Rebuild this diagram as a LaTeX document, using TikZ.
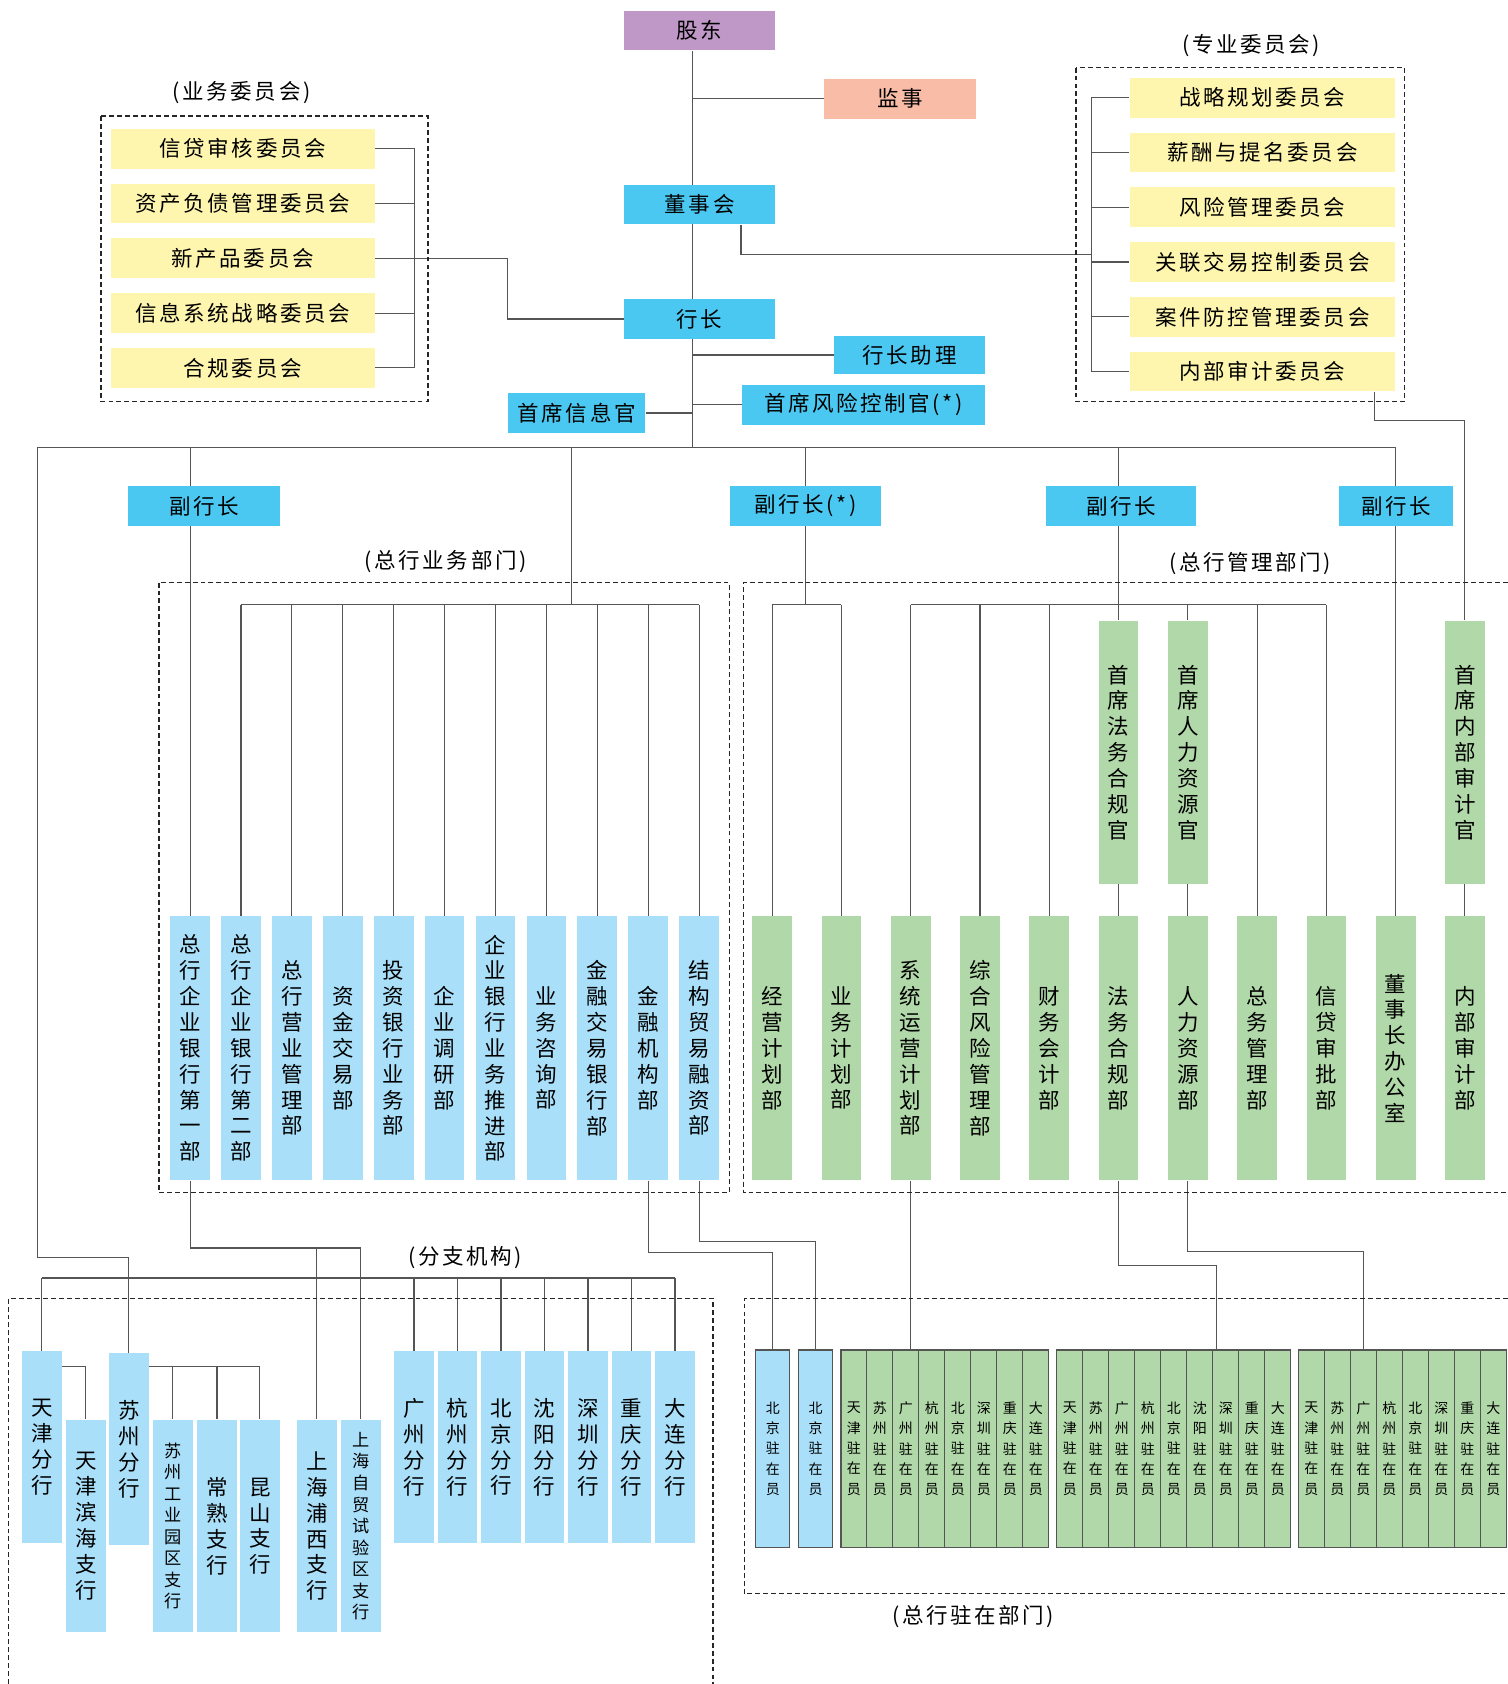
\documentclass[tikz,border=0pt]{standalone}
\usepackage{fontspec}
\setmainfont{Noto Sans CJK SC}
\newfontfamily\spaced[LetterSpace=12]{Noto Sans CJK SC}
\usepackage{xcolor}
\usetikzlibrary{positioning,calc}

\definecolor{hdblue}{HTML}{4BC8F1}
\definecolor{ltblue}{HTML}{A9DFF8}
\definecolor{grn}{HTML}{B1D8A8}
\definecolor{ylw}{HTML}{FEF5AE}
\definecolor{prp}{HTML}{BF98C7}
\definecolor{slm}{HTML}{F9BCA7}
\definecolor{lnk}{HTML}{555555}

\pgfdeclarelayer{bg}
\pgfsetlayers{bg,main}

% stack the characters of a word one under the other
\newcommand{\vst}[1]{\expandafter\vstaux#1\relax}
\def\vstaux#1#2\relax{#1\ifx\relax#2\relax\else\\\vstaux#2\relax\fi}

\tikzset{
  link/.style={draw=lnk, line width=0.6pt},
  dashframe/.style={draw=black!85, line width=0.7pt, dash pattern=on 2.6pt off 1.6pt},
  hbox/.style={inner sep=0pt, minimum height=0.74cm, font=\spaced\fontsize{11.4}{13.7}\selectfont},
  lead/.style={hbox, fill=hdblue},
  cmte/.style={hbox, fill=ylw},
  grouplabel/.style={font=\spaced\fontsize{11.4}{13.7}\selectfont},
  vcol/.style={inner sep=0pt, minimum width=0.74cm, align=center, font=\fontsize{11.4}{13.7}\selectfont},
  bizdept/.style={vcol, fill=ltblue, minimum height=4.92cm},
  mgtdept/.style={vcol, fill=grn, minimum height=4.92cm},
  chief/.style={vcol, fill=grn, minimum height=4.9cm},
  branch/.style={vcol, fill=ltblue, minimum height=3.58cm},
  subbranch/.style={vcol, fill=ltblue, minimum height=3.96cm},
  smallcol/.style={font=\fontsize{9.1}{11.4}\selectfont},
  resid/.style={inner sep=0pt, draw=lnk, line width=0.6pt, minimum height=3.68cm, align=center, font=\fontsize{7.4}{10.8}\selectfont},
}

\begin{document}
\begin{tikzpicture}[x=0.02cm, y=-0.02cm]
  \useasboundingbox (0,0) rectangle (1404,1568);

  % Define coordinates for nodes
  \node[hbox, fill=prp, minimum width=2.82cm] (gd) at (651.5,28.5) {股东};
  \node[hbox, fill=slm, minimum width=2.82cm] (js) at (838,92) {监事};
  \node[lead, minimum width=2.82cm] (dsh) at (651.5,190.5) {董事会};
  \node[lead, minimum width=2.82cm] (hz) at (651.5,297) {行长};
  \node[lead, minimum width=2.82cm, minimum height=0.72cm] (hzzl) at (847,330.5) {行长助理};
  \node[lead, minimum width=4.52cm] (fkg) at (804,377) {首席风险控制官(*)};
  \node[lead, minimum width=2.56cm] (xxg) at (537,384.5) {首席信息官};

  \node[lead, minimum width=2.82cm] (fz1) at (190,471) {副行长};
  \node[lead, minimum width=2.8cm] (fz2) at (750,471) {副行长(*)};
  \node[lead, minimum width=2.8cm] (fz3) at (1044,471) {副行长};
  \node[lead, minimum width=2.12cm] (fz4) at (1300,471) {副行长};

  \coordinate (spine) at (645,416.5);
  \coordinate (wl) at (35,416.5);
  \coordinate (scbus) at (1016,237);
  \coordinate (bcbus) at (386.3,240.5);
  \coordinate (bizbus) at (532.5,563);
  \coordinate (mbus) at (750,563);

  % committees
  \foreach \nm [count=\i] in {信贷审核委员会,资产负债管理委员会,新产品委员会,信息系统战略委员会,合规委员会}
    \node[cmte, minimum width=4.92cm] (bc\i) at (226,{138.5+(\i-1)*51}) {\nm};
  \foreach \nm [count=\i] in {战略规划委员会,薪酬与提名委员会,风险管理委员会,关联交易控制委员会,案件防控管理委员会,内部审计委员会}
    \node[cmte, minimum width=4.94cm] (sc\i) at (1175.5,{91+(\i-1)*51}) {\nm};

  \node[grouplabel] (lbiz) at (225,86) {(业务委员会)};
  \node[grouplabel] (lspec) at (1165,42) {(专业委员会)};
  \node[grouplabel] (lhqb) at (415,523) {(总行业务部门)};
  \node[grouplabel] (lhqm) at (1164,525) {(总行管理部门)};
  \node[grouplabel] (lbr) at (433,1171) {(分支机构)};
  \node[grouplabel] (lres) at (906,1505) {(总行驻在部门)};

  % head office departments
  \foreach \nm [count=\i] in {总行企业银行第一部,总行企业银行第二部,总行营业管理部,资金交易部,投资银行业务部,企业调研部,企业银行业务推进部,业务咨询部,金融交易银行部,金融机构部,结构贸易融资部}
    \node[bizdept] (d\i) at ({177+(\i-1)*47.4},976) {\vst{\nm}};
  \foreach \nm [count=\i] in {经营计划部,业务计划部,系统运营计划部,综合风险管理部,财务会计部,法务合规部,人力资源部,总务管理部,信贷审批部,董事长办公室,内部审计部}
    \node[mgtdept] (m\i) at ({719+(\i-1)*64.5},976) {\vst{\nm}};
  \node[chief] (c1) at (1041.5,700.5) {\vst{首席法务合规官}};
  \node[chief] (c2) at (1106,700.5) {\vst{首席人力资源官}};
  \node[chief] (c3) at (1364,700.5) {\vst{首席内部审计官}};

  % branches
  \node[branch] (tj) at (39,1347.5) {\vst{天津分行}};
  \node[branch] (sz) at (120,1349.5) {\vst{苏州分行}};
  \foreach \nm [count=\i] in {广州分行,杭州分行,北京分行,沈阳分行,深圳分行,重庆分行,大连分行}
    \node[branch] (fh\i) at ({385.5+(\i-1)*40.5},1347.5) {\vst{\nm}};
  \node[subbranch] (tjbh) at (80,1421) {\vst{天津滨海支行}};
  \node[subbranch, smallcol] (szgy) at (161,1421) {\vst{苏州工业园区支行}};
  \node[subbranch] (cs) at (202,1421) {\vst{常熟支行}};
  \node[subbranch] (ks) at (242,1421) {\vst{昆山支行}};
  \node[subbranch] (shpx) at (295,1421) {\vst{上海浦西支行}};
  \node[subbranch, smallcol] (shzm) at (336,1421) {\vst{上海自贸试验区支行}};

  % resident offices
  \node[resid, fill=ltblue, minimum width=0.64cm] (rb1) at (719.5,1349) {\vst{北京驻在员}};
  \node[resid, fill=ltblue, minimum width=0.64cm] (rb2) at (759.5,1349) {\vst{北京驻在员}};
  \foreach \cty [count=\i] in {天津,苏州,广州,杭州,北京,深圳,重庆,大连}
    \node[resid, fill=grn, minimum width=0.484cm] (r1c\i) at ({795.1+(\i-1)*24.2},1349) {\vst{\cty}\\驻\\在\\员};
  \foreach \cty [count=\i] in {天津,苏州,广州,杭州,北京,沈阳,深圳,重庆,大连}
    \node[resid, fill=grn, minimum width=0.484cm] (r2c\i) at ({996.1+(\i-1)*24.2},1349) {\vst{\cty}\\驻\\在\\员};
  \foreach \cty [count=\i] in {天津,苏州,广州,杭州,北京,深圳,重庆,大连}
    \node[resid, fill=grn, minimum width=0.484cm] (r3c\i) at ({1221.1+(\i-1)*24.2},1349) {\vst{\cty}\\驻\\在\\员};

  % dashed frames
  \draw[dashframe] (94,108) rectangle (398.5,374);
  \draw[dashframe] (1002,63) rectangle (1307.5,374);
  \draw[dashframe] (148,542.5) rectangle (679,1110.5);
  \draw[dashframe] (1404,542.5) -- (692.5,542.5) -- (692.5,1110.5) -- (1404,1110.5);
  \draw[dashframe] (8,1568) -- (8,1209) -- (664,1209) -- (664,1568);
  \draw[dashframe] (1404,1209) -- (693,1209) -- (693,1484) -- (1404,1484);

  % Draw lines between nodes
  \begin{pgfonlayer}{bg}
    \draw[link] (gd.south -| spine) -- (spine);
    \draw[link] (js.west -| spine) -- (js.west);
    \draw[link] (hzzl.west -| spine) -- (hzzl.west);
    \draw[link] (fkg.west -| spine) -- (fkg.west);
    \draw[link] (xxg.east) -- (xxg.east -| spine);
    \draw[link] ([xshift=0.77cm]dsh.south) |- (scbus);
    \draw[link] (sc1.west -| scbus) -- (sc6.west -| scbus);
    \foreach \i in {1,...,6}
      \draw[link] (sc\i.west -| scbus) -- (sc\i.west);
    \draw[link] (bc1.east -| bcbus) -- (bc5.east -| bcbus);
    \foreach \i in {1,2,4,5}
      \draw[link] (bc\i.east) -- (bc\i.east -| bcbus);
    \draw[link] (bc3.east) -| (xxg.west |- hz.west) -- (hz.west);

    % vice presidents
    \draw[link] (wl) -- (spine -| m10.north);
    \draw[link] (spine -| d1.north) -- (d1.north);
    \draw[link] (spine -| bizbus) -- (bizbus);
    \draw[link] (bizbus -| d2.north) -- (bizbus -| d11.north);
    \foreach \i in {2,...,11}
      \draw[link] (bizbus -| d\i.north) -- (d\i.north);
    \draw[link] (spine -| mbus) -- (mbus);
    \draw[link] (mbus -| m1.north) -- (mbus -| m2.north);
    \draw[link] (mbus -| m1.north) -- (m1.north);
    \draw[link] (mbus -| m2.north) -- (m2.north);
    \draw[link] (spine -| c1.north) -- (c1.north);
    \draw[link] (c1.south) -- (m6.north);
    \draw[link] (mbus -| m3.north) -- (mbus -| m9.north);
    \foreach \i in {3,4,5,8,9}
      \draw[link] (mbus -| m\i.north) -- (m\i.north);
    \draw[link] (mbus -| c2.north) -- (c2.north);
    \draw[link] (c2.south) -- (m7.north);
    \draw[link] (spine -| m10.north) -- (m10.north);
    \draw[link] ([xshift=2.09cm]sc6.south) -- ++(0,27) -| (c3.north);
    \draw[link] (c3.south) -- (m11.north);

    % branches
    \draw[link] (wl) -- ++(0,754.5) -| (sz.north);
    \draw[link] (d1.south) |- (shzm.north |- 0,1162) -- (shzm.north);
    \draw[link] (shpx.north |- 0,1162) -- (shpx.north);
    \draw[link] (tj.north |- 0,1190) -- (fh7.north |- 0,1190);
    \draw[link] (tj.north |- 0,1190) -- (tj.north);
    \foreach \i in {1,...,7}
      \draw[link] (fh\i.north |- 0,1190) -- (fh\i.north);
    \draw[link] (tj.east |- 0,1272.5) -| (tjbh.north);
    \draw[link] (sz.east |- 0,1272.5) -| (ks.north);
    \draw[link] (szgy.north |- 0,1272.5) -- (szgy.north);
    \draw[link] (cs.north |- 0,1272.5) -- (cs.north);

    % resident offices
    \draw[link] (d10.south) -- ++(0,67) -| (rb1.north);
    \draw[link] (d11.south) -- ++(0,57) -| (rb2.north);
    \draw[link] (m3.south) -- (m3.south |- r1c3.north);
    \draw[link] (m6.south) -- ++(0,79) -| ([xshift=0.08cm]r2c7.north west);
    \draw[link] (m7.south) -- ++(0,66) -| (r3c3.north);
  \end{pgfonlayer}

\end{tikzpicture}
\end{document}
